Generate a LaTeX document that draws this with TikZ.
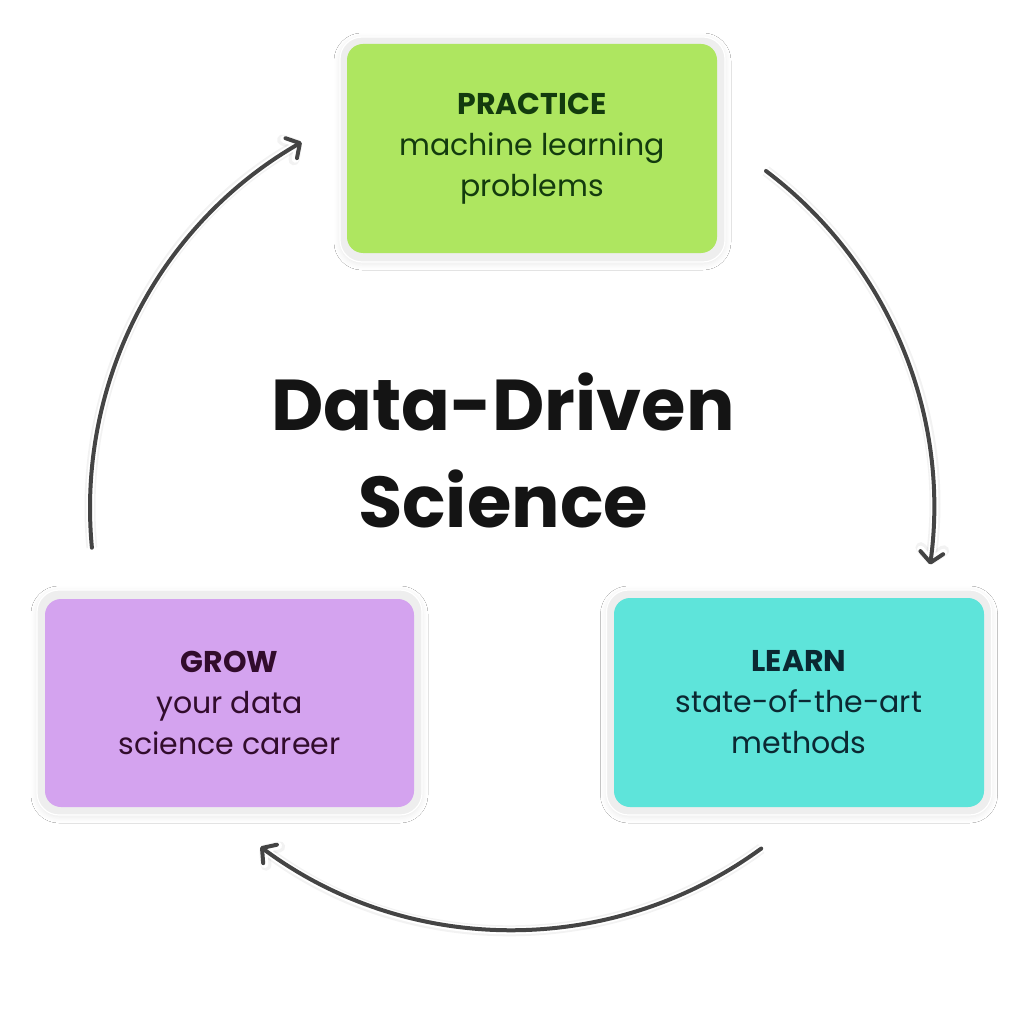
\documentclass[tikz,border=0pt]{standalone}
\usepackage{fontspec}
\setmainfont{Poppins}
\usetikzlibrary{arrows.meta,calc,shadows.blur}
\definecolor{greenbox}{HTML}{AEE660}
\definecolor{greentext}{HTML}{133B0E}
\definecolor{tealbox}{HTML}{5EE4DA}
\definecolor{tealtext}{HTML}{0B2832}
\definecolor{purplebox}{HTML}{D4A3EF}
\definecolor{purpletext}{HTML}{320C2C}
\definecolor{framegray}{HTML}{EEEEEE}
\definecolor{arrowgray}{HTML}{444444}
\definecolor{titlecol}{HTML}{141414}
\begin{document}
\begin{tikzpicture}[x=1pt,y=-1pt,
  frame/.style={draw=white, line width=1.2pt, fill=framegray, rounded corners=22pt,
    minimum width=385pt, minimum height=225pt, inner sep=0pt,
    blur shadow={shadow blur steps=8, shadow xshift=0pt, shadow yshift=-2pt, shadow opacity=9, shadow blur radius=6pt}},
  card/.style={rounded corners=16pt, minimum width=370pt, minimum height=209pt,
    inner sep=0pt, align=center, font=\fontsize{30}{41}\selectfont},
  arr/.style={draw=arrowgray, line width=4pt, line cap=round,
    -{Straight Barb[length=10pt,width=23pt,line cap=round,line join=round]},
    preaction={draw=black, draw opacity=0.05, line width=11pt},
    preaction={draw=white, line width=7.5pt}},
  title/.style={align=center, text=titlecol, font=\fontsize{72}{97}\selectfont\bfseries}]
\useasboundingbox[fill=white] (0,0) rectangle (1024,1024);

% frames
\node[frame] (fp) at (532.5,149.5) {};
\node[frame] (fl) at (799,702.5) {};
\node[frame] (fg) at (229.5,702.5) {};

% cards
\node[card, fill=greenbox, text=greentext] (practice) at (532,148.5)
  {\textbf{PRACTICE}\\machine learning\\problems};
\node[card, fill=tealbox, text=tealtext] (learn) at (799,702.5)
  {\textbf{LEARN}\\state-of-the-art\\methods};
\node[card, fill=purplebox, text=purpletext, minimum width=369pt, minimum height=208pt] (grow) at (229.5,703)
  {\textbf{GROW}\\your data\\science career};

% title
\node[title] (ttl) at (503,450) {Data-Driven\\Science};

% cycle arrows
\coordinate (c) at (512,508);
\coordinate (a1) at ($(c)+(174.6:422)$);
\coordinate (a2) at ($(c)+(307:422)$);
\coordinate (a3) at ($(c)+(53.8:422)$);
\draw[arr] (a1) arc[start angle=174.6, end angle=240.1, radius=422];
\draw[arr] (a2) arc[start angle=307, end angle=367.7, radius=422];
\draw[arr] (a3) arc[start angle=53.8, end angle=126.6, radius=422];
\end{tikzpicture}
\end{document}
